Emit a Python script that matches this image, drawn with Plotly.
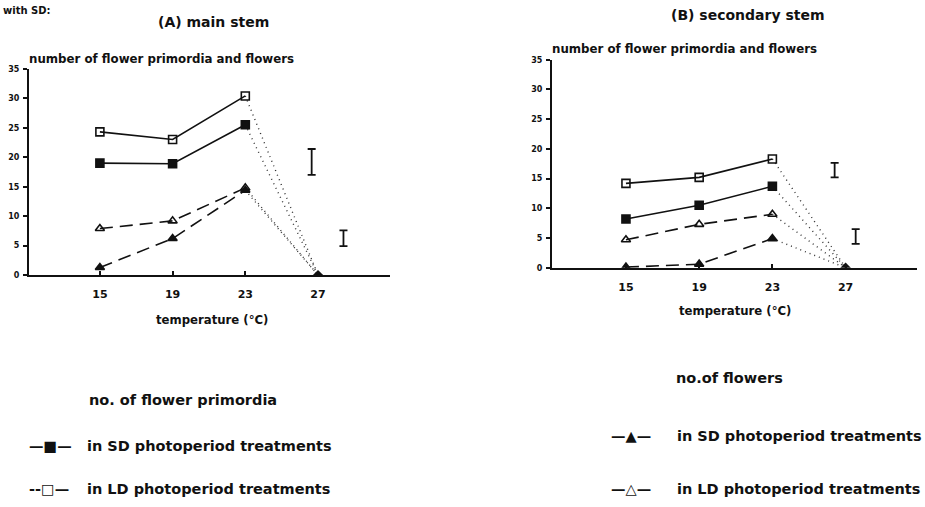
import plotly.graph_objects as go

W, H = 925, 507

temps = [15, 19, 23, 27]
x_ticks = [15, 19, 23, 27]
y_ticks = [0, 5, 10, 15, 20, 25, 30, 35]

# Panel A - main stem
A_prim_SD = [19.0, 18.9, 25.5, 0]
A_prim_LD = [24.3, 23.0, 30.4, 0]
A_flow_SD = [1.3, 6.2, 14.4, 0]
A_flow_LD = [7.9, 9.2, 14.8, 0]
A_err_x = [26.65, 28.4]
A_err_lo = [17.0, 4.9]
A_err_hi = [21.4, 7.6]

# Panel B - secondary stem
B_prim_SD = [8.2, 10.5, 13.7, 0]
B_prim_LD = [14.2, 15.2, 18.3, 0]
B_flow_SD = [0.1, 0.6, 4.9, 0]
B_flow_LD = [4.7, 7.3, 9.0, 0]
B_err_x = [26.4, 27.55]
B_err_lo = [15.2, 4.0]
B_err_hi = [17.65, 6.5]

FONT = "DejaVu Sans"
INK = "#111111"

fig = go.Figure()

def px_x(p):
    return p / W

def px_y(p):
    return 1 - p / H

def add_panel(xa, ya, prim_SD, prim_LD, flow_SD, flow_LD, ex, elo, ehi):
    series = [
        (prim_LD, "square-open", "solid"),
        (prim_SD, "square", "solid"),
        (flow_LD, "triangle-up-open", "13px,7px"),
        (flow_SD, "triangle-up", "13px,7px"),
    ]
    for vals, sym, dash in series:
        # dotted decline from 23 to 27 °C
        fig.add_trace(go.Scatter(
            x=temps[2:], y=vals[2:], mode="lines", xaxis=xa, yaxis=ya,
            line=dict(color="#333333", width=1.4, dash="1px,4px"),
            showlegend=False, hoverinfo="skip"))
        fig.add_trace(go.Scatter(
            x=temps[:3], y=vals[:3], mode="lines+markers", xaxis=xa, yaxis=ya,
            line=dict(color=INK, width=1.6, dash=dash),
            marker=dict(symbol=sym, size=8, color=INK,
                        line=dict(color=INK, width=1.6)),
            showlegend=False))
    fig.add_trace(go.Scatter(
        x=temps[3:], y=prim_SD[3:], mode="markers", xaxis=xa, yaxis=ya,
        marker=dict(symbol="diamond", size=8, color=INK),
        showlegend=False))
    mid = [(a + b) / 2 for a, b in zip(elo, ehi)]
    half = [(b - a) / 2 for a, b in zip(elo, ehi)]
    fig.add_trace(go.Scatter(
        x=ex, y=mid, mode="markers", xaxis=xa, yaxis=ya,
        marker=dict(size=0.1, color="rgba(0,0,0,0)"),
        error_y=dict(type="data", array=half, symmetric=True,
                     color=INK, thickness=1.8, width=4),
        showlegend=False))

add_panel("x", "y", A_prim_SD, A_prim_LD, A_flow_SD, A_flow_LD, A_err_x, A_err_lo, A_err_hi)
add_panel("x2", "y2", B_prim_SD, B_prim_LD, B_flow_SD, B_flow_LD, B_err_x, B_err_lo, B_err_hi)

xcommon = dict(tickvals=x_ticks, ticks="inside", ticklen=4, tickwidth=1.5,
               tickcolor=INK, showline=True, linecolor=INK, linewidth=2,
               showgrid=False, zeroline=False, ticklabelstandoff=8,
               tickfont=dict(family=FONT, size=11, color=INK, weight="bold"))
ycommon = dict(tickvals=y_ticks, range=[0, 35], ticks="outside", ticklen=4,
               tickwidth=1.5, tickcolor=INK, showline=True, linecolor=INK,
               linewidth=2, showgrid=False, zeroline=False, ticklabelstandoff=2,
               tickfont=dict(family=FONT, size=8, color=INK, weight="bold"))

fig.update_layout(
    width=W, height=H,
    margin=dict(l=0, r=0, t=0, b=0),
    paper_bgcolor="white", plot_bgcolor="white",
    xaxis=dict(domain=[px_x(29), px_x(390)], range=[11.1, 30.96],
               anchor="y", **xcommon),
    yaxis=dict(domain=[px_y(276), px_y(66)], anchor="x", **ycommon),
    xaxis2=dict(domain=[px_x(552), px_x(917)], range=[10.96, 30.9],
                anchor="y2", **xcommon),
    yaxis2=dict(domain=[px_y(268.5), px_y(56.7)], anchor="x2", **ycommon),
)

def txt(text, x, y, size, xanchor="left", yanchor="middle"):
    fig.add_annotation(text=text, x=px_x(x), y=px_y(y), xref="paper", yref="paper",
                       xanchor=xanchor, yanchor=yanchor, showarrow=False,
                       borderpad=0,
                       font=dict(family=FONT, size=size, color=INK, weight="bold"))

# heading at the top of the scan (mostly cut off in the original)
txt("with SD:", 2, 0, 10, xanchor="left", yanchor="top")

txt("(A) main stem", 213, 18, 14, xanchor="center")
txt("(B) secondary stem", 748, 11, 14, xanchor="center")
txt("number of flower primordia and flowers", 28, 56, 11.8)
txt("number of flower primordia and flowers", 551, 46, 11.8)
txt("temperature (°C)", 212, 322, 11.7, xanchor="center")
txt("temperature (°C)", 735, 313, 11.7, xanchor="center")

# legend
txt("no. of flower primordia", 88, 403, 14.5)
txt("—■—", 28, 450, 14.5)
txt("in SD photoperiod treatments", 86, 450, 14.5)
txt("--□—", 28, 494, 14.5)
txt("in LD photoperiod treatments", 86, 494, 14.5)
txt("no.of flowers", 675, 381, 14.5)
txt("—▲—", 610, 440, 14.5)
txt("in SD photoperiod treatments", 676, 440, 14.5)
txt("—△—", 610, 494, 14.5)
txt("in LD photoperiod treatments", 676, 494, 14.5)

fig.write_html(
    "out.html",
    config={"displayModeBar": False},
    post_script=(
        "document.documentElement.style.margin='0';"
        "document.body.style.margin='0';"
        "document.body.style.overflow='hidden';"
        "document.documentElement.style.overflow='hidden';"
        "var d=document.getElementById('{plot_id}');"
        "d.style.position='fixed';d.style.left='0px';d.style.top='0px';"
    ),
)
